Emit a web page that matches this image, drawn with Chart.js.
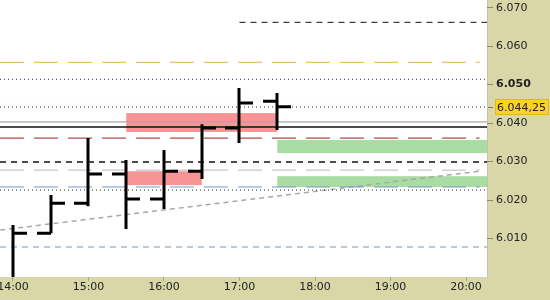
<!DOCTYPE html>
<html>
<head>
<meta charset="utf-8">
<script src="https://cdn.jsdelivr.net/npm/chart.js@4.4.1/dist/chart.umd.min.js"></script>
<style>
  html, body { margin: 0; padding: 0; background: #d9d6a8; }
  canvas { display: block; }
</style>
</head>
<body>
<canvas id="chart" width="550" height="300"></canvas>
<script>
// 30 minute OHLC bars, time in hours
const barTimes = [14, 14.5, 15, 15.5, 16, 16.5, 17, 17.5];
const opens  = [5.998, 6.0114, 6.0192, 6.0268, 6.0203, 6.0275, 6.0387, 6.0457];
const highs  = [6.0135, 6.0213, 6.0361, 6.0304, 6.0330, 6.0397, 6.0491, 6.0478];
const lows   = [5.997, 6.0114, 6.0184, 6.0125, 6.0177, 6.0255, 6.0348, 6.0382];
const closes = [6.0114, 6.0192, 6.0268, 6.0203, 6.0275, 6.0387, 6.0452, 6.04425];

// horizontal levels (null = from left edge / to right edge)
const levelValues = [6.0662, 6.0558, 6.0514, 6.0462, 6.0442, 6.0403, 6.0390, 6.0361, 6.0299, 6.0278, 6.0234, 6.0226, 6.0078];
const levelFrom   = [17, null, null, null, null, null, null, null, null, null, null, null, null];
const levelTo     = [null, 20.18, null, null, null, null, null, 20.18, null, 20.18, 20.18, null, null];

// trend line
const trendTimes  = [13.83, 20.18];
const trendValues = [6.0122, 6.0275];

// zones
const zoneFrom = [15.5, 15.5, 17.5, 17.5];
const zoneTo   = [17.5, 16.5, null, null];
const zoneHigh = [6.0426, 6.0275, 6.0356, 6.0262];
const zoneLow  = [6.0377, 6.0239, 6.0322, 6.0234];

const hourTicks  = [14, 15, 16, 17, 18, 19, 20];
const priceTicks = [6.010, 6.020, 6.030, 6.040, 6.050, 6.060, 6.070];

const X_MIN = 13.828, X_MAX = 20.278;
const Y_MIN = 6.000, Y_MAX = 6.072;

const levelStyles = [
  { color: "#111111", dash: [6, 5], width: 1 },
  { color: "#e4c262", dash: [24, 10], width: 1.2 },
  { color: "#2a2a5a", dash: [1, 3], width: 1 },
  { color: "#ececf2", dash: [1, 3], width: 1 },
  { color: "#2a2a3a", dash: [1, 3], width: 1 },
  { color: "#a8a8a8", dash: [], width: 1.2 },
  { color: "#111111", dash: [], width: 1.5 },
  { color: "#b04c4c", dash: [24, 10], width: 1.2 },
  { color: "#111111", dash: [6, 5], width: 1.5 },
  { color: "#c8c8c8", dash: [24, 10], width: 1.2 },
  { color: "#7898c4", dash: [24, 10], width: 1.2 },
  { color: "#2a2a3a", dash: [1, 3], width: 1 },
  { color: "#7a98a8", dash: [6, 5], width: 1.2 },
];
const zoneColors = ["#f89494", "#f89494", "#a8dca2", "#a8dca2"];

const datasets = levelValues.map((v, i) => ({
  type: "line",
  data: [
    { x: levelFrom[i] ?? X_MIN, y: v },
    { x: levelTo[i] ?? X_MAX, y: v },
  ],
  borderColor: levelStyles[i].color,
  borderDash: levelStyles[i].dash,
  borderWidth: levelStyles[i].width,
  pointRadius: 0,
}));

datasets.push({
  type: "line",
  data: trendTimes.map((t, i) => ({ x: t, y: trendValues[i] })),
  borderColor: "#a8a8a8",
  borderDash: [5, 4],
  borderWidth: 1.5,
  pointRadius: 0,
});

const fmtHour = (v) => String(v).padStart(2, "0") + ":00";

const noPad = (s) => {
  s.paddingTop = 0;
  s.paddingBottom = 0;
  s.paddingLeft = 0;
  s.paddingRight = 0;
};

const background = {
  id: "background",
  beforeDraw(chart) {
    const { ctx, chartArea: a } = chart;
    ctx.save();
    ctx.fillStyle = "#d9d6a8";
    ctx.fillRect(0, 0, chart.width, chart.height);
    ctx.fillStyle = "#ffffff";
    ctx.fillRect(a.left, a.top, a.right - a.left, a.bottom - a.top);
    ctx.strokeStyle = "#c4c2a8";
    ctx.lineWidth = 1;
    ctx.beginPath();
    ctx.moveTo(a.right + 0.5, a.top);
    ctx.lineTo(a.right + 0.5, a.bottom);
    ctx.stroke();
    ctx.restore();
  },
};

const zones = {
  id: "zones",
  beforeDatasetsDraw(chart) {
    const { ctx, chartArea: a, scales: { x, y } } = chart;
    ctx.save();
    ctx.beginPath();
    ctx.rect(a.left, a.top, a.right - a.left, a.bottom - a.top);
    ctx.clip();
    zoneHigh.forEach((hi, i) => {
      const x0 = x.getPixelForValue(zoneFrom[i]);
      const x1 = x.getPixelForValue(zoneTo[i] ?? X_MAX);
      const y0 = y.getPixelForValue(hi);
      const y1 = y.getPixelForValue(zoneLow[i]);
      ctx.fillStyle = zoneColors[i];
      ctx.fillRect(x0, y0, x1 - x0, y1 - y0);
    });
    ctx.restore();
  },
};

const ohlc = {
  id: "ohlc",
  afterDatasetsDraw(chart) {
    const { ctx, chartArea: a, scales: { x, y } } = chart;
    const tick = 14;
    ctx.save();
    ctx.beginPath();
    ctx.rect(a.left, a.top, a.right - a.left, a.bottom - a.top);
    ctx.clip();
    ctx.strokeStyle = "#000000";
    ctx.lineWidth = 3;
    ctx.lineCap = "butt";
    barTimes.forEach((t, i) => {
      const px = Math.round(x.getPixelForValue(t));
      ctx.beginPath();
      ctx.moveTo(px, y.getPixelForValue(highs[i]));
      ctx.lineTo(px, y.getPixelForValue(lows[i]));
      const yo = y.getPixelForValue(opens[i]);
      ctx.moveTo(px - tick, yo);
      ctx.lineTo(px, yo);
      const yc = y.getPixelForValue(closes[i]);
      ctx.moveTo(px, yc);
      ctx.lineTo(px + tick, yc);
      ctx.stroke();
    });
    ctx.restore();
  },
};

const priceTag = {
  id: "priceTag",
  afterDraw(chart) {
    const { ctx, chartArea: a, scales: { y } } = chart;
    const last = closes[closes.length - 1];
    const s = last.toFixed(5);
    const label = s.slice(0, 5) + "," + s.slice(5);
    const py = Math.round(y.getPixelForValue(last));
    ctx.save();
    ctx.fillStyle = "#f8d428";
    ctx.fillRect(a.right + 8, py - 8, 54, 16);
    ctx.strokeStyle = "#e0b818";
    ctx.lineWidth = 1;
    ctx.strokeRect(a.right + 8.5, py - 7.5, 53, 15);
    ctx.strokeStyle = "#707060";
    ctx.beginPath();
    ctx.moveTo(a.right + 1, py + 0.5);
    ctx.lineTo(a.right + 6, py + 0.5);
    ctx.stroke();
    ctx.fillStyle = "#222222";
    ctx.font = "11px 'DejaVu Sans'";
    ctx.textBaseline = "middle";
    ctx.fillText(label, a.right + 10, py + 1);
    ctx.restore();
  },
};

new Chart(document.getElementById("chart"), {
  type: "line",
  data: { datasets },
  options: {
    responsive: false,
    animation: false,
    layout: { padding: 0 },
    plugins: { legend: { display: false }, tooltip: { enabled: false } },
    scales: {
      x: {
        type: "linear",
        min: X_MIN,
        max: X_MAX,
        afterBuildTicks: (s) => { s.ticks = hourTicks.map((v) => ({ value: v })); },
        afterFit: (s) => { s.height = 23; noPad(s); },
        grid: { drawOnChartArea: false, tickLength: 4, color: "#a4a288" },
        border: { display: false },
        ticks: {
          callback: fmtHour,
          padding: 0,
          maxRotation: 0,
          color: "#222222",
          font: { family: "DejaVu Sans", size: 11 },
        },
      },
      y: {
        type: "linear",
        position: "right",
        min: Y_MIN,
        max: Y_MAX,
        afterBuildTicks: (s) => { s.ticks = priceTicks.map((v) => ({ value: v })); },
        afterFit: (s) => { s.width = 63; noPad(s); },
        grid: { drawOnChartArea: false, tickLength: 6, color: "#8a8870" },
        border: { display: false },
        ticks: {
          callback: (v) => v.toFixed(3),
          padding: 3,
          color: "#222222",
          font: (c) => ({
            family: "DejaVu Sans",
            size: 11,
            weight: c.tick && Math.abs(c.tick.value - 6.05) < 1e-6 ? "bold" : "normal",
          }),
        },
      },
    },
  },
  plugins: [background, zones, ohlc, priceTag],
});
</script>
</body>
</html>
